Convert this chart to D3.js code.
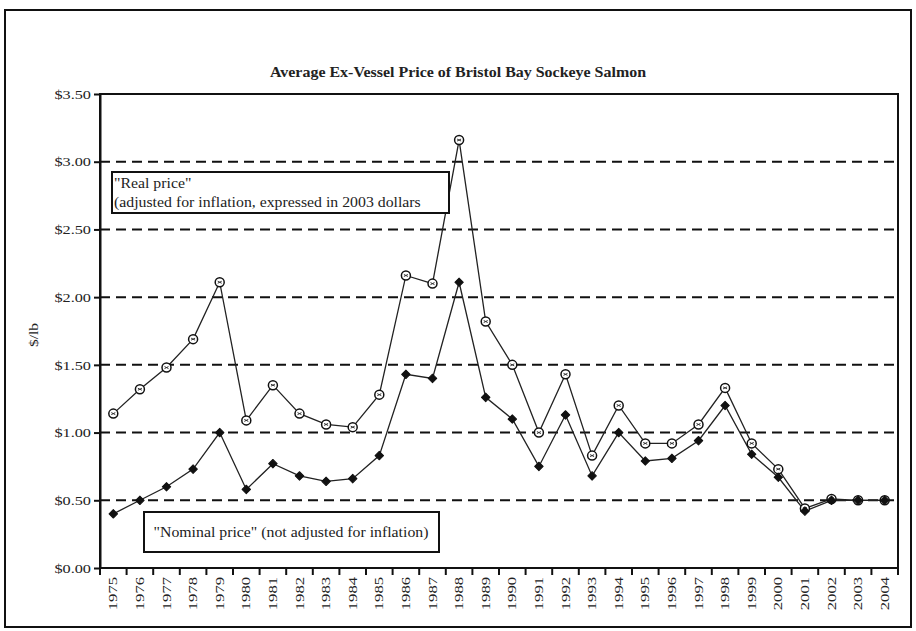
<!DOCTYPE html>
<html>
<head>
<meta charset="utf-8">
<script src="https://cdn.jsdelivr.net/npm/d3@7"></script>
<style>
body { margin: 0; background: #fff; }
svg text { font-family: "Times New Roman", "Liberation Serif", Times, "DejaVu Serif", serif !important; fill: #222; }
</style>
</head>
<body>
<script>
// data
var years = ['1975','1976','1977','1978','1979','1980','1981','1982','1983','1984',
    '1985','1986','1987','1988','1989','1990','1991','1992','1993','1994',
    '1995','1996','1997','1998','1999','2000','2001','2002','2003','2004']
var realPrice = [1.14,1.32,1.48,1.69,2.11,1.09,1.35,1.14,1.06,1.04,
    1.28,2.16,2.10,3.16,1.82,1.50,1.00,1.43,0.83,1.20,
    0.92,0.92,1.06,1.33,0.92,0.73,0.44,0.51,0.50,0.50]
var nominalPrice = [0.40,0.50,0.60,0.73,1.00,0.58,0.77,0.68,0.64,0.66,
    0.83,1.43,1.40,2.11,1.26,1.10,0.75,1.13,0.68,1.00,
    0.79,0.81,0.94,1.20,0.84,0.67,0.42,0.50,0.50,0.50]
var yTicks = [0,0.5,1,1.5,2,2.5,3,3.5]

var W = 916, H = 631
var margin = { left: 100, right: 18, top: 94, bottom: 63 }
var width = W - margin.left - margin.right
var height = H - margin.top - margin.bottom

var svg = d3.select('body').append('svg')
    .attr('width', W)
    .attr('height', H)

// the source picture has its text stretched sideways a bit
function label(parent, px, py, str, size, stretch, anchor){
    return parent.append('text')
        .attr('transform', 'translate(' + px + ',' + py + ') scale(' + stretch + ',1)')
        .attr('text-anchor', anchor || 'start')
        .attr('font-size', size)
        .text(str)
}

// outer frame
svg.append('rect')
    .attr('x', 5).attr('y', 10)
    .attr('width', 906).attr('height', 617)
    .attr('fill', 'none')
    .attr('stroke', '#111')
    .attr('stroke-width', 2)

label(svg, 458, 77, 'Average Ex-Vessel Price of Bristol Bay Sockeye Salmon', 14, 1.14, 'middle')
    .attr('font-weight', 'bold')

var chart = svg.append('g')
    .attr('transform', 'translate(' + margin.left + ',' + margin.top + ')')

var x = d3.scaleBand().domain(years).range([0, width])
var y = d3.scaleLinear().domain([0, 3.5]).range([height, 0])

// dashed grid
chart.append('g')
    .selectAll('line')
    .data(yTicks.filter(function(d){ return d > 0 && d < 3.5 }))
    .join('line')
    .attr('x1', 0).attr('x2', width)
    .attr('y1', function(d){ return y(d) })
    .attr('y2', function(d){ return y(d) })
    .attr('stroke', '#111')
    .attr('stroke-width', 2)
    .attr('stroke-dasharray', '10,6')

// plot box
chart.append('rect')
    .attr('width', width).attr('height', height)
    .attr('fill', 'none')
    .attr('stroke', '#111')
    .attr('stroke-width', 2)

var yAxis = chart.append('g')
    .call(d3.axisLeft(y).tickValues(yTicks).tickSize(6).tickSizeOuter(0)
        .tickFormat(function(d){ return '$' + d.toFixed(2) }))
yAxis.attr('font-family', null)
yAxis.select('.domain').attr('stroke', '#111').attr('stroke-width', 2)
yAxis.selectAll('.tick line').attr('stroke', '#111').attr('stroke-width', 2)
yAxis.selectAll('.tick text')
    .attr('font-size', 13)
    .attr('fill', '#333')
    .attr('x', null)
    .attr('transform', 'translate(-9,0) scale(1.25,1)')

// x axis: ticks on category boundaries
var xAxisG = chart.append('g')
    .attr('transform', 'translate(0,' + height + ')')
xAxisG.append('line')
    .attr('x1', 0).attr('x2', width)
    .attr('stroke', '#111').attr('stroke-width', 2)
xAxisG.selectAll('.bound')
    .data(years.concat(['end']))
    .join('line')
    .attr('class', 'bound')
    .attr('x1', function(d, i){ return i * x.step() })
    .attr('x2', function(d, i){ return i * x.step() })
    .attr('y1', 0).attr('y2', 7)
    .attr('stroke', '#111').attr('stroke-width', 2)
xAxisG.selectAll('.yr')
    .data(years)
    .join('text')
    .attr('class', 'yr')
    .attr('transform', function(d){
        return 'translate(' + (x(d) + x.bandwidth() / 2 + 4) + ',9) rotate(-90) scale(1.33,1)'
    })
    .attr('text-anchor', 'end')
    .attr('font-size', 12.5)
    .attr('fill', '#333')
    .text(function(d){ return d })

svg.append('text')
    .attr('transform', 'translate(38,335) rotate(-90) scale(1.2,1)')
    .attr('text-anchor', 'middle')
    .attr('font-size', 13)
    .attr('fill', '#555')
    .text('$/lb')

var cx = function(d, i){ return x(years[i]) + x.bandwidth() / 2 }
var line = d3.line()
    .x(function(d, i){ return cx(d, i) })
    .y(function(d){ return y(d) })

chart.append('path')
    .datum(realPrice)
    .attr('d', line)
    .attr('fill', 'none')
    .attr('stroke', '#222')
    .attr('stroke-width', 1.3)

chart.append('path')
    .datum(nominalPrice)
    .attr('d', line)
    .attr('fill', 'none')
    .attr('stroke', '#222')
    .attr('stroke-width', 1.3)

// real price markers: open circle with a mark inside
var rm = chart.append('g').selectAll('g')
    .data(realPrice)
    .join('g')
    .attr('transform', function(d, i){ return 'translate(' + cx(d, i) + ',' + y(d) + ')' })
rm.append('circle')
    .attr('r', 4.5)
    .attr('fill', '#fff')
    .attr('stroke', '#111')
    .attr('stroke-width', 1.5)
rm.append('path')
    .attr('d', 'M-2,-1L2,1M-2,1L2,-1')
    .attr('stroke', '#333')
    .attr('stroke-width', 1)

// nominal price markers: filled diamond (rotated square)
chart.append('g').selectAll('path')
    .data(nominalPrice)
    .join('path')
    .attr('transform', function(d, i){ return 'translate(' + cx(d, i) + ',' + y(d) + ') rotate(45)' })
    .attr('d', d3.symbol().type(d3.symbolSquare).size(36))
    .attr('fill', '#111')
    .attr('stroke', '#111')
    .attr('stroke-width', 1)
    .attr('stroke-linejoin', 'round')

// legend boxes
svg.append('rect')
    .attr('x', 112).attr('y', 172)
    .attr('width', 337).attr('height', 41)
    .attr('fill', '#fff')
    .attr('stroke', '#111').attr('stroke-width', 2)
label(svg, 114, 188, '"Real price"', 14, 1.13)
label(svg, 114, 207, '(adjusted for inflation, expressed in 2003 dollars', 14, 1.13)

svg.append('rect')
    .attr('x', 144).attr('y', 512)
    .attr('width', 295).attr('height', 40)
    .attr('fill', '#fff')
    .attr('stroke', '#111').attr('stroke-width', 2)
label(svg, 291, 537, '"Nominal price" (not adjusted for inflation)', 14, 1.13, 'middle')
</script>
</body>
</html>
